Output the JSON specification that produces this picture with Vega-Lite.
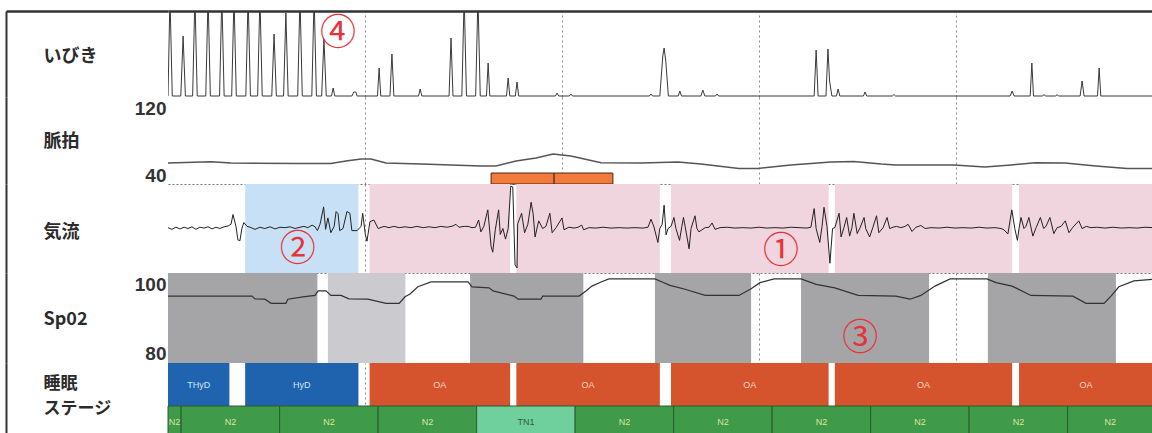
{
"$schema": "https://vega.github.io/schema/vega-lite/v6.json",
"padding": {"left": 4, "top": 9, "right": 0, "bottom": 0},
"background": "white",
"spacing": 0,
"bounds": "flush",
"resolve": {"scale": {"color": "independent"}},
"config": {"view": {"stroke": null}, "font": "Noto Sans CJK JP"},
"datasets": {
"snore": [{"t":0,"v":0},{"t":0.6,"v":100},{"t":1.3,"v":0},{"t":3.9,"v":0},{"t":4.6,"v":60},{"t":5.3,"v":0},{"t":7.5,"v":0},{"t":8.2,"v":100},{"t":8.9,"v":0},{"t":11.5,"v":0},{"t":12.2,"v":100},{"t":12.9,"v":0},{"t":15.7,"v":0},{"t":16.4,"v":100},{"t":17.1,"v":0},{"t":19.4,"v":0},{"t":20.1,"v":100},{"t":20.8,"v":0},{"t":23.7,"v":0},{"t":24.4,"v":100},{"t":25.1,"v":0},{"t":27.3,"v":0},{"t":28.0,"v":100},{"t":28.7,"v":0},{"t":31.6,"v":0},{"t":32.3,"v":62},{"t":33.0,"v":0},{"t":35.2,"v":0},{"t":35.9,"v":83},{"t":36.6,"v":0},{"t":39.5,"v":0},{"t":40.2,"v":100},{"t":40.9,"v":0},{"t":43.8,"v":0},{"t":44.5,"v":100},{"t":45.2,"v":0},{"t":46.8,"v":0},{"t":47.5,"v":57},{"t":48.2,"v":0},{"t":49.8,"v":0},{"t":50.3,"v":8},{"t":50.8,"v":0},{"t":56.0,"v":0},{"t":56.6,"v":4},{"t":57.2,"v":4},{"t":57.6,"v":0},{"t":63.8,"v":0},{"t":64.3,"v":28},{"t":64.8,"v":0},{"t":67.6,"v":0},{"t":68.2,"v":42},{"t":68.8,"v":0},{"t":76.3,"v":0},{"t":76.8,"v":7},{"t":77.3,"v":0},{"t":85.6,"v":0},{"t":86.2,"v":58},{"t":86.8,"v":0},{"t":89.5,"v":0},{"t":90.2,"v":100},{"t":90.9,"v":0},{"t":93.7,"v":0},{"t":94.4,"v":100},{"t":95.1,"v":0},{"t":97.0,"v":0},{"t":97.5,"v":33},{"t":98.0,"v":0},{"t":103.1,"v":0},{"t":103.6,"v":18},{"t":104.1,"v":0},{"t":105.8,"v":0},{"t":106.3,"v":14},{"t":106.8,"v":0},{"t":118.0,"v":0},{"t":118.5,"v":3},{"t":119.0,"v":0},{"t":122.2,"v":0},{"t":122.7,"v":2},{"t":123.2,"v":0},{"t":146.6,"v":0},{"t":147.1,"v":2},{"t":147.6,"v":0},{"t":149.8,"v":0},{"t":150.7,"v":40},{"t":151.1,"v":48},{"t":151.6,"v":35},{"t":152.4,"v":0},{"t":155.4,"v":0},{"t":155.9,"v":5},{"t":156.4,"v":0},{"t":162.3,"v":0},{"t":162.9,"v":6},{"t":163.5,"v":0},{"t":166.7,"v":0},{"t":167.2,"v":2},{"t":167.7,"v":0},{"t":196.8,"v":0},{"t":197.4,"v":46},{"t":198.0,"v":0},{"t":200.4,"v":0},{"t":201.0,"v":47},{"t":201.5,"v":15},{"t":202.2,"v":0},{"t":203.6,"v":0},{"t":204.1,"v":7},{"t":204.6,"v":0},{"t":211.8,"v":0},{"t":212.3,"v":4},{"t":212.8,"v":0},{"t":220.6,"v":0},{"t":221.1,"v":1.5},{"t":221.6,"v":0},{"t":256.5,"v":0},{"t":257.1,"v":5},{"t":257.7,"v":0},{"t":262.6,"v":0},{"t":263.1,"v":33},{"t":263.6,"v":0},{"t":266.4,"v":0},{"t":266.8,"v":1.5},{"t":267.2,"v":0},{"t":270.4,"v":0},{"t":270.8,"v":1.5},{"t":271.2,"v":0},{"t":277.8,"v":0},{"t":278.4,"v":15},{"t":279.0,"v":0},{"t":283.1,"v":0},{"t":283.6,"v":28},{"t":284.1,"v":0},{"t":300,"v":0}],
"pulse": [{"t":0,"v":54.5},{"t":13.1,"v":56.1},{"t":19.2,"v":54.5},{"t":40.5,"v":53.9},{"t":49.6,"v":53.9},{"t":54.2,"v":57.0},{"t":58.8,"v":59.4},{"t":61.8,"v":59.4},{"t":66.4,"v":54.5},{"t":77.1,"v":53.3},{"t":95.3,"v":50.9},{"t":99.9,"v":50.9},{"t":106.0,"v":57.0},{"t":112.1,"v":60.6},{"t":117.3,"v":65.5},{"t":122.7,"v":63.0},{"t":131.9,"v":54.9},{"t":144.1,"v":54.5},{"t":155.3,"v":55.8},{"t":162.3,"v":53.3},{"t":173.9,"v":47.9},{"t":179.7,"v":47.9},{"t":189.7,"v":52.1},{"t":201.9,"v":55.8},{"t":208.9,"v":56.4},{"t":217.2,"v":53.3},{"t":221.7,"v":52.1},{"t":239.4,"v":52.1},{"t":248.8,"v":49.7},{"t":256.8,"v":52.1},{"t":264.1,"v":54.9},{"t":273.2,"v":54.5},{"t":282.6,"v":50.9},{"t":292.1,"v":47.9},{"t":300,"v":47.9}],
"markers": [{"start":98.4,"end":117.6},{"start":117.6,"end":135.5}],
"airflow": [{"t":0.0,"v":0.02},{"t":1.2,"v":-0.02},{"t":2.4,"v":0.03},{"t":3.7,"v":-0.01},{"t":4.9,"v":0.03},{"t":6.1,"v":0.0},{"t":7.3,"v":0.04},{"t":8.5,"v":-0.02},{"t":9.7,"v":0.03},{"t":11.0,"v":0.01},{"t":12.2,"v":0.04},{"t":13.4,"v":-0.01},{"t":14.6,"v":0.03},{"t":15.8,"v":0.0},{"t":17.1,"v":0.04},{"t":18.3,"v":0.06},{"t":19.2,"v":0.1},{"t":19.8,"v":0.33},{"t":20.7,"v":0.05},{"t":21.3,"v":-0.27},{"t":21.9,"v":-0.29},{"t":22.5,"v":0.0},{"t":23.1,"v":0.14},{"t":24.1,"v":0.05},{"t":25.0,"v":0.03},{"t":26.5,"v":-0.02},{"t":28.0,"v":0.03},{"t":29.5,"v":0.0},{"t":31.1,"v":0.04},{"t":32.6,"v":-0.01},{"t":34.1,"v":0.03},{"t":35.6,"v":0.02},{"t":37.2,"v":0.04},{"t":38.7,"v":0.0},{"t":40.2,"v":0.03},{"t":41.4,"v":0.05},{"t":42.6,"v":0.02},{"t":43.9,"v":0.08},{"t":44.8,"v":0.04},{"t":45.5,"v":-0.05},{"t":46.3,"v":0.1},{"t":47.4,"v":0.51},{"t":48.0,"v":-0.02},{"t":48.7,"v":0.25},{"t":49.6,"v":-0.1},{"t":50.6,"v":0.05},{"t":51.2,"v":0.4},{"t":51.8,"v":0.35},{"t":52.3,"v":-0.05},{"t":53.3,"v":0.0},{"t":54.5,"v":0.4},{"t":55.4,"v":0.36},{"t":56.0,"v":-0.05},{"t":57.6,"v":-0.05},{"t":58.8,"v":0.05},{"t":59.3,"v":0.36},{"t":60.1,"v":-0.14},{"t":60.6,"v":-0.3},{"t":61.5,"v":0.16},{"t":62.7,"v":0.2},{"t":64.0,"v":0.0},{"t":65.8,"v":0.05},{"t":67.3,"v":0.02},{"t":68.8,"v":0.05},{"t":70.4,"v":0.02},{"t":72.2,"v":0.04},{"t":74.0,"v":0.02},{"t":75.8,"v":0.05},{"t":77.7,"v":0.02},{"t":79.5,"v":0.04},{"t":81.3,"v":0.02},{"t":83.1,"v":0.05},{"t":85.0,"v":0.03},{"t":86.8,"v":0.06},{"t":87.7,"v":0.1},{"t":88.6,"v":0.03},{"t":90.2,"v":0.05},{"t":91.4,"v":0.05},{"t":92.6,"v":0.02},{"t":93.7,"v":0.03},{"t":94.6,"v":0.2},{"t":95.3,"v":-0.08},{"t":96.2,"v":0.05},{"t":97.4,"v":0.44},{"t":98.4,"v":-0.42},{"t":98.9,"v":-0.56},{"t":99.7,"v":-0.02},{"t":100.7,"v":0.44},{"t":101.2,"v":-0.14},{"t":102.0,"v":0.0},{"t":102.8,"v":-0.25},{"t":103.6,"v":0.0},{"t":104.4,"v":1.0},{"t":105.0,"v":0.98},{"t":105.7,"v":-0.86},{"t":106.3,"v":-0.93},{"t":106.5,"v":0.11},{"t":107.7,"v":0.36},{"t":108.6,"v":-0.1},{"t":109.6,"v":0.1},{"t":110.6,"v":0.62},{"t":111.2,"v":0.35},{"t":111.8,"v":-0.2},{"t":112.9,"v":0.18},{"t":114.1,"v":0.0},{"t":115.1,"v":0.05},{"t":116.3,"v":0.36},{"t":117.0,"v":-0.1},{"t":118.2,"v":0.02},{"t":120.0,"v":0.25},{"t":120.6,"v":-0.03},{"t":122.1,"v":0.03},{"t":123.7,"v":0.01},{"t":124.9,"v":0.03},{"t":126.0,"v":0.08},{"t":126.6,"v":-0.03},{"t":128.2,"v":0.02},{"t":130.4,"v":0.01},{"t":132.5,"v":0.03},{"t":134.9,"v":0.01},{"t":137.4,"v":0.02},{"t":139.8,"v":0.01},{"t":142.2,"v":0.02},{"t":144.7,"v":0.01},{"t":146.2,"v":0.03},{"t":147.1,"v":0.22},{"t":148.0,"v":0.04},{"t":149.2,"v":-0.33},{"t":149.8,"v":0.0},{"t":150.5,"v":0.1},{"t":151.1,"v":0.55},{"t":151.7,"v":-0.15},{"t":152.3,"v":0.0},{"t":153.2,"v":0.05},{"t":154.1,"v":0.26},{"t":154.7,"v":0.0},{"t":155.8,"v":-0.28},{"t":156.5,"v":0.05},{"t":157.0,"v":0.26},{"t":157.5,"v":0.05},{"t":158.7,"v":-0.48},{"t":159.3,"v":0.0},{"t":160.5,"v":0.3},{"t":161.1,"v":0.0},{"t":161.7,"v":-0.08},{"t":163.6,"v":0.02},{"t":164.8,"v":0.03},{"t":165.7,"v":0.13},{"t":166.6,"v":-0.02},{"t":168.1,"v":0.02},{"t":170.3,"v":0.03},{"t":172.7,"v":0.01},{"t":175.1,"v":0.02},{"t":177.6,"v":0.01},{"t":180.0,"v":0.03},{"t":182.4,"v":0.01},{"t":184.9,"v":0.02},{"t":187.3,"v":0.01},{"t":189.7,"v":0.03},{"t":192.2,"v":0.02},{"t":194.6,"v":0.01},{"t":195.8,"v":0.03},{"t":196.8,"v":0.47},{"t":197.4,"v":0.0},{"t":198.5,"v":-0.33},{"t":199.2,"v":0.05},{"t":199.8,"v":0.5},{"t":200.7,"v":0.05},{"t":201.6,"v":-0.82},{"t":202.4,"v":0.0},{"t":203.1,"v":0.02},{"t":204.4,"v":0.36},{"t":205.0,"v":-0.2},{"t":205.9,"v":0.03},{"t":206.7,"v":0.26},{"t":207.6,"v":-0.18},{"t":208.3,"v":0.02},{"t":208.9,"v":0.36},{"t":209.9,"v":-0.12},{"t":210.8,"v":0.02},{"t":212.0,"v":0.26},{"t":212.5,"v":0.0},{"t":213.7,"v":-0.2},{"t":214.7,"v":0.03},{"t":215.8,"v":0.3},{"t":216.5,"v":-0.1},{"t":217.8,"v":0.02},{"t":219.0,"v":0.26},{"t":219.8,"v":0.0},{"t":220.8,"v":0.03},{"t":221.9,"v":0.05},{"t":223.2,"v":0.02},{"t":224.5,"v":0.05},{"t":225.4,"v":0.1},{"t":226.6,"v":-0.07},{"t":227.8,"v":0.03},{"t":229.3,"v":0.07},{"t":230.6,"v":0.0},{"t":232.4,"v":0.02},{"t":234.8,"v":0.01},{"t":237.3,"v":0.03},{"t":239.7,"v":0.01},{"t":242.1,"v":0.02},{"t":244.6,"v":0.01},{"t":247.0,"v":0.03},{"t":249.4,"v":0.01},{"t":251.9,"v":0.02},{"t":253.7,"v":0.0},{"t":254.6,"v":-0.03},{"t":255.8,"v":-0.13},{"t":257.0,"v":0.44},{"t":257.9,"v":0.0},{"t":258.7,"v":-0.28},{"t":259.2,"v":0.0},{"t":259.8,"v":0.26},{"t":260.7,"v":0.0},{"t":261.3,"v":0.05},{"t":262.2,"v":0.26},{"t":263.4,"v":-0.18},{"t":264.4,"v":0.02},{"t":265.7,"v":0.26},{"t":266.7,"v":0.0},{"t":267.4,"v":0.05},{"t":268.6,"v":0.26},{"t":269.8,"v":-0.12},{"t":270.8,"v":0.02},{"t":272.0,"v":0.05},{"t":273.3,"v":0.18},{"t":274.4,"v":-0.1},{"t":275.6,"v":0.03},{"t":277.4,"v":0.18},{"t":278.4,"v":0.0},{"t":279.7,"v":0.05},{"t":281.1,"v":0.02},{"t":282.9,"v":0.03},{"t":285.4,"v":0.01},{"t":287.8,"v":0.03},{"t":290.3,"v":0.01},{"t":292.7,"v":0.02},{"t":295.1,"v":0.01},{"t":297.6,"v":0.03},{"t":300.0,"v":0.02}],
"spo2": [{"t":0,"v":96.5},{"t":25.6,"v":96.5},{"t":26.5,"v":95.7},{"t":29.5,"v":95.6},{"t":31.4,"v":94.4},{"t":35.9,"v":94.4},{"t":36.5,"v":95.6},{"t":41.1,"v":96.3},{"t":44.8,"v":96.7},{"t":45.7,"v":98.0},{"t":48.1,"v":98.0},{"t":49.6,"v":96.7},{"t":52.7,"v":96.7},{"t":55.1,"v":95.7},{"t":60.9,"v":95.6},{"t":66.4,"v":94.4},{"t":70.4,"v":94.4},{"t":72.2,"v":96.3},{"t":73.7,"v":97.1},{"t":76.1,"v":99.2},{"t":80.1,"v":100.6},{"t":91.4,"v":100.6},{"t":92.6,"v":99.2},{"t":97.8,"v":98.9},{"t":99.0,"v":98.0},{"t":105.4,"v":96.5},{"t":106.6,"v":95.6},{"t":113.6,"v":95.6},{"t":114.1,"v":96.5},{"t":125.2,"v":96.5},{"t":127.3,"v":98.0},{"t":129.1,"v":99.4},{"t":131.9,"v":100.6},{"t":134.3,"v":101.5},{"t":148.3,"v":101.5},{"t":150.5,"v":100.6},{"t":152.9,"v":99.6},{"t":157.5,"v":98.5},{"t":163.6,"v":96.7},{"t":173.9,"v":96.7},{"t":177.6,"v":98.6},{"t":180.3,"v":100.4},{"t":184.6,"v":101.5},{"t":192.8,"v":101.5},{"t":197.4,"v":99.9},{"t":203.1,"v":98.9},{"t":210.2,"v":96.7},{"t":221.7,"v":96.5},{"t":226.0,"v":95.6},{"t":229.3,"v":96.7},{"t":233.6,"v":99.4},{"t":238.2,"v":101.5},{"t":249.4,"v":101.5},{"t":252.2,"v":100.4},{"t":257.1,"v":99.4},{"t":262.8,"v":96.7},{"t":275.6,"v":96.5},{"t":279.6,"v":94.4},{"t":285.1,"v":94.4},{"t":287.2,"v":96.5},{"t":289.6,"v":99.2},{"t":294.2,"v":100.9},{"t":300,"v":101.4}],
"spo2bg": [{"shade":"dark","start":0,"end":45.5},{"shade":"light","start":48.7,"end":72.3},{"shade":"dark","start":92.0,"end":126.5},{"shade":"dark","start":148.3,"end":177.6},{"shade":"dark","start":192.8,"end":231.8},{"shade":"dark","start":249.7,"end":288.7}],
"events": [{"id":1,"type":"THyD","start":0,"end":18.7,"lane":"event"},{"id":2,"type":"HyD","start":23.5,"end":58.0,"lane":"event"},{"id":3,"type":"OA","start":61.4,"end":104.2,"lane":"event"},{"id":4,"type":"OA","start":106.1,"end":149.8,"lane":"event"},{"id":5,"type":"OA","start":153.2,"end":201.2,"lane":"event"},{"id":6,"type":"OA","start":203.1,"end":257.1,"lane":"event"},{"id":7,"type":"OA","start":259.2,"end":300,"lane":"event"}],
"stages": [{"id":11,"type":"N2","start":0,"end":4,"lane":"stage"},{"id":12,"type":"N2","start":4,"end":34,"lane":"stage"},{"id":13,"type":"N2","start":34,"end":64,"lane":"stage"},{"id":14,"type":"N2","start":64,"end":94,"lane":"stage"},{"id":15,"type":"TN1","start":94,"end":124,"lane":"stage"},{"id":16,"type":"N2","start":124,"end":154,"lane":"stage"},{"id":17,"type":"N2","start":154,"end":184,"lane":"stage"},{"id":18,"type":"N2","start":184,"end":214,"lane":"stage"},{"id":19,"type":"N2","start":214,"end":244,"lane":"stage"},{"id":20,"type":"N2","start":244,"end":274,"lane":"stage"},{"id":21,"type":"N2","start":274,"end":300,"lane":"stage"}],
"notes": [{"row":"snore","t":51.8,"v":62,"label":"④"},{"row":"air","t":39.5,"v":-0.5,"label":"②"},{"row":"air","t":186.7,"v":-0.55,"label":"①"},{"row":"spo2","t":210.8,"v":84.0,"label":"③"}]
},
"vconcat": [
{
 "width": 985, "height": 86,
 "layer": [
  {"data": {"name": "snore"},
   "mark": {"type": "line", "clip": true, "color": "#3a3a3a", "strokeWidth": 1},
   "encoding": {
    "x": {"field": "t", "type": "quantitative", "scale": {"domain": [0, 300], "nice": false, "zero": false},
          "axis": {"orient": "top", "title": null, "labels": false, "ticks": false, "domain": true, "domainColor": "#333", "domainWidth": 2.5, "grid": true, "values": [60, 120, 180, 240], "gridDash": [2, 3], "gridColor": "#8a8a8a", "gridWidth": 1}},
    "y": {"field": "v", "type": "quantitative", "scale": {"domain": [-1, 85], "nice": false, "zero": false},
          "axis": {"title": "いびき", "titleAngle": 0, "titleAlign": "left", "titleBaseline": "middle", "titleX": 37, "titleY": 45, "titleFontSize": 18, "titleFontWeight": "bold", "titleColor": "#2b2b2b", "titleFont": "Noto Sans CJK JP", "offset": 162, "domain": true, "domainColor": "#333", "domainWidth": 2, "labels": false, "ticks": true, "tickSize": -162, "tickWidth": 2.5, "tickColor": "#333", "values": [85], "grid": false}}
   }},
  {"data": {"name": "notes"}, "transform": [{"filter": "datum.row == 'snore'"}],
   "mark": {"type": "text", "fontSize": 36, "color": "#e8323a", "align": "center", "baseline": "middle", "font": "Noto Sans CJK JP"},
   "encoding": {"x": {"field": "t", "type": "quantitative"}, "y": {"field": "v", "type": "quantitative"}, "text": {"field": "label"}}}
 ]
},
{
 "width": 985, "height": 87,
 "layer": [
  {"data": {"name": "pulse"},
   "mark": {"type": "line", "color": "#555", "strokeWidth": 1.5},
   "encoding": {
    "x": {"field": "t", "type": "quantitative", "scale": {"domain": [0, 300], "nice": false, "zero": false},
          "axis": {"orient": "bottom", "title": null, "labels": false, "ticks": false, "domain": true, "domainColor": "#777", "domainDash": [2, 2], "domainWidth": 1, "grid": true, "values": [60, 120, 180, 240], "gridDash": [2, 3], "gridColor": "#8a8a8a", "gridWidth": 1}},
    "y": {"field": "v", "type": "quantitative", "scale": {"domain": [29.1, 134.5], "nice": false, "zero": false},
          "axis": {"title": "脈拍", "titleAngle": 0, "titleAlign": "left", "titleBaseline": "middle", "titleX": 37, "titleY": 44, "titleFontSize": 18, "titleFontWeight": "bold", "titleColor": "#2b2b2b", "titleFont": "Noto Sans CJK JP", "offset": 162, "domain": true, "domainColor": "#333", "domainWidth": 2, "values": [40, 120], "labels": true, "labelFont": "Liberation Sans", "labelFontSize": 19, "labelFontWeight": "bold", "labelColor": "#333", "labelPadding": -160, "labelAlign": "right", "labelBaseline": "middle", "labelOverlap": false, "labelFlush": false, "ticks": false, "tickSize": 0, "grid": false}}
   }},
  {"data": {"name": "markers"},
   "mark": {"type": "rect", "fill": "#f27b3c", "stroke": "#4a2a1a", "strokeWidth": 1},
   "encoding": {"x": {"field": "start", "type": "quantitative"}, "x2": {"field": "end"}, "y": {"datum": 42.4}, "y2": {"datum": 29.1}}}
 ]
},
{
 "width": 985, "height": 89,
 "layer": [
  {"data": {"name": "events"}, "transform": [{"filter": "datum.type != 'THyD'"}],
   "mark": {"type": "rect"},
   "encoding": {"x": {"field": "start", "type": "quantitative", "scale": {"domain": [0, 300], "nice": false, "zero": false},
          "axis": {"orient": "bottom", "title": null, "labels": false, "ticks": false, "domain": true, "domainColor": "#777", "domainDash": [2, 2], "domainWidth": 1, "grid": true, "values": [60, 120, 180, 240], "gridDash": [2, 3], "gridColor": "#8a8a8a", "gridWidth": 1}},
     "x2": {"field": "end"},
     "color": {"field": "type", "type": "nominal", "scale": {"domain": ["HyD", "OA"], "range": ["#c8e0f5", "#f0d4de"]}, "legend": null}}},
  {"data": {"name": "airflow"},
   "mark": {"type": "line", "color": "#222", "strokeWidth": 1},
   "encoding": {"x": {"field": "t", "type": "quantitative"},
    "y": {"field": "v", "type": "quantitative", "scale": {"domain": [-1.05, 1.05], "nice": false, "zero": false},
          "axis": {"title": "気流", "titleAngle": 0, "titleAlign": "left", "titleBaseline": "middle", "titleX": 37, "titleY": 48, "titleFontSize": 18, "titleFontWeight": "bold", "titleColor": "#2b2b2b", "titleFont": "Noto Sans CJK JP", "offset": 162, "domain": true, "domainColor": "#333", "domainWidth": 2, "labels": false, "ticks": false, "tickSize": 0, "grid": false}}}},
  {"data": {"name": "notes"}, "transform": [{"filter": "datum.row == 'air'"}],
   "mark": {"type": "text", "fontSize": 36, "color": "#e8323a", "align": "center", "baseline": "middle", "font": "Noto Sans CJK JP"},
   "encoding": {"x": {"field": "t", "type": "quantitative"}, "y": {"field": "v", "type": "quantitative"}, "text": {"field": "label"}}}
 ]
},
{
 "width": 985, "height": 90,
 "layer": [
  {"data": {"name": "spo2bg"},
   "mark": {"type": "rect"},
   "encoding": {"x": {"field": "start", "type": "quantitative", "scale": {"domain": [0, 300], "nice": false, "zero": false},
          "axis": {"orient": "bottom", "title": null, "labels": false, "ticks": false, "domain": false, "grid": true, "values": [60, 120, 180, 240], "gridDash": [2, 3], "gridColor": "#8a8a8a", "gridWidth": 1}},
     "x2": {"field": "end"},
     "color": {"field": "shade", "type": "nominal", "scale": {"domain": ["dark", "light"], "range": ["#a5a5a8", "#cbcbcf"]}, "legend": null}}},
  {"data": {"name": "spo2"},
   "mark": {"type": "line", "color": "#333", "strokeWidth": 1.2},
   "encoding": {"x": {"field": "t", "type": "quantitative"},
    "y": {"field": "v", "type": "quantitative", "scale": {"domain": [77.1, 103.2], "nice": false, "zero": false},
          "axis": {"title": "Sp02", "titleAngle": 0, "titleAlign": "left", "titleBaseline": "middle", "titleX": 37, "titleY": 46, "titleFontSize": 18, "titleFontWeight": "bold", "titleColor": "#2b2b2b", "titleFont": "Noto Sans CJK JP", "offset": 162, "domain": true, "domainColor": "#333", "domainWidth": 2, "values": [80, 100], "labels": true, "labelFont": "Liberation Sans", "labelFontSize": 19, "labelFontWeight": "bold", "labelColor": "#333", "labelPadding": -160, "labelAlign": "right", "labelBaseline": "middle", "labelOverlap": false, "labelFlush": false, "ticks": false, "tickSize": 0, "grid": false}}}},
  {"data": {"name": "notes"}, "transform": [{"filter": "datum.row == 'spo2'"}],
   "mark": {"type": "text", "fontSize": 36, "color": "#e8323a", "align": "center", "baseline": "middle", "font": "Noto Sans CJK JP"},
   "encoding": {"x": {"field": "t", "type": "quantitative"}, "y": {"field": "v", "type": "quantitative"}, "text": {"field": "label"}}}
 ]
},
{
 "width": 985, "height": 86,
 "layer": [
  {"data": {"name": "events"},
   "mark": {"type": "rect"},
   "encoding": {"x": {"field": "start", "type": "quantitative", "scale": {"domain": [0, 300], "nice": false, "zero": false},
          "axis": {"orient": "bottom", "title": null, "labels": false, "ticks": false, "domain": false, "grid": true, "values": [60, 120, 180, 240], "gridDash": [2, 3], "gridColor": "#8a8a8a", "gridWidth": 1}},
     "x2": {"field": "end"},
     "y": {"field": "lane", "type": "nominal", "scale": {"domain": ["event", "stage"], "paddingInner": 0, "paddingOuter": 0},
           "axis": {"title": ["睡眠", "ステージ"], "titleAngle": 0, "titleAlign": "left", "titleBaseline": "top", "titleX": 37, "titleY": 12, "titleLineHeight": 25, "titleFontSize": 17, "titleFontWeight": "bold", "titleColor": "#2b2b2b", "titleFont": "Noto Sans CJK JP", "offset": 162, "domain": true, "domainColor": "#333", "domainWidth": 2, "labels": false, "ticks": false, "tickSize": 0, "grid": false}},
     "color": {"field": "type", "type": "nominal", "scale": {"domain": ["THyD", "HyD", "OA", "N2", "TN1"], "range": ["#2064b0", "#1f63ae", "#d5532d", "#3f9a49", "#6fd09d"]}, "legend": null}}},
  {"data": {"name": "stages"},
   "mark": {"type": "rect", "stroke": "#2c5a2f", "strokeWidth": 1},
   "encoding": {"x": {"field": "start", "type": "quantitative"}, "x2": {"field": "end"},
     "y": {"field": "lane", "type": "nominal"},
     "color": {"field": "type", "type": "nominal", "legend": null}}},
  {"data": {"name": "events"},
   "transform": [{"fold": ["start", "end"], "as": ["edge", "tt"]}, {"aggregate": [{"op": "mean", "field": "tt", "as": "mid"}], "groupby": ["id", "type", "lane"]}],
   "mark": {"type": "text", "fontSize": 9, "font": "Liberation Sans", "align": "center", "baseline": "middle"},
   "encoding": {"x": {"field": "mid", "type": "quantitative"}, "y": {"field": "lane", "type": "nominal"}, "text": {"field": "type"},
     "color": {"condition": {"test": "datum.type === 'OA'", "value": "#f6d8c2"}, "value": "#d2e2f6"}}},
  {"data": {"name": "stages"},
   "transform": [{"fold": ["start", "end"], "as": ["edge", "tt"]}, {"aggregate": [{"op": "mean", "field": "tt", "as": "mid"}], "groupby": ["id", "type", "lane"]}],
   "mark": {"type": "text", "fontSize": 9, "font": "Liberation Sans", "align": "center", "baseline": "middle", "dy": -6},
   "encoding": {"x": {"field": "mid", "type": "quantitative"}, "y": {"field": "lane", "type": "nominal"}, "text": {"field": "type"},
     "color": {"condition": {"test": "datum.type === 'TN1'", "value": "#2f5a3f"}, "value": "#d8e8a0"}}}
 ]
}
]
}
